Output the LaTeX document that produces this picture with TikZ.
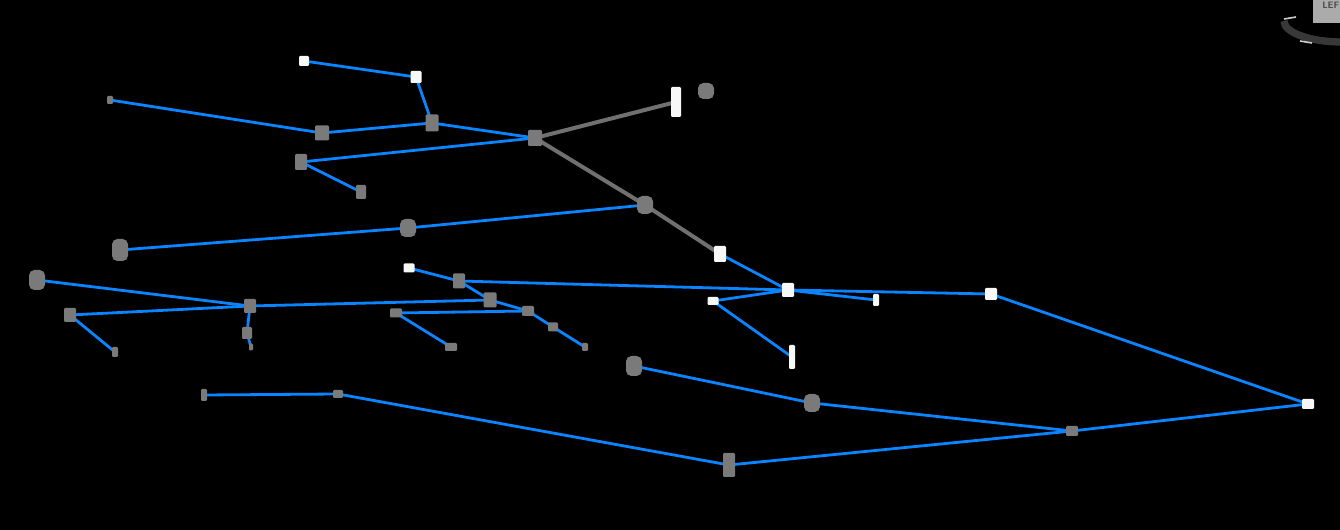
\documentclass[tikz,border=0pt]{standalone}
\usetikzlibrary{backgrounds}
\definecolor{linkblue}{RGB}{10,132,255}
\definecolor{nodegrey}{RGB}{122,122,122}
\definecolor{linkgrey}{RGB}{112,112,112}
\definecolor{nodewhite}{RGB}{248,248,248}
\tikzset{
  box/.style 2 args={rectangle, inner sep=0pt, minimum width=#1*0.75pt, minimum height=#2*0.75pt, rounded corners=0.8pt},
  gn/.style={fill=nodegrey},
  wn/.style={fill=nodewhite},
  arch/.style={rounded corners=4pt},
  bl/.style={draw=linkblue, line width=2.1pt},
  gl/.style={draw=linkgrey, line width=3pt},
}
\begin{document}
\begin{tikzpicture}[x=0.75pt,y=-0.75pt]
\useasboundingbox (0,0) rectangle (1340,530);
% nodes
\node[box={10}{10},wn] (A) at (304,61) {};
\node[box={11}{12},wn] (B) at (416,77) {};
\node[box={6}{8},gn] (C) at (110,100) {};
\node[box={14}{15},gn] (D) at (322,133) {};
\node[box={13}{17},gn] (E) at (432,123) {};
\node[box={14}{16},gn] (F) at (535,138) {};
\node[box={10}{30},wn] (G) at (676,102) {};
\node[box={16}{16},gn,arch] (H) at (706,91) {};
\node[box={12}{16},gn] (I) at (301,162) {};
\node[box={10}{14},gn] (J) at (361,192) {};
\node[box={16}{18},gn,arch] (K) at (645,205) {};
\node[box={16}{18},gn,arch] (L) at (408,228) {};
\node[box={16}{22},gn,arch] (M) at (120,250) {};
\node[box={12}{16},wn] (N) at (720,254) {};
\node[box={12}{14},wn] (O) at (788,290) {};
\node[box={6}{12},wn] (P) at (876,300) {};
\node[box={12}{12},wn] (Q) at (991,294) {};
\node[box={11}{8},wn] (R) at (713,301) {};
\node[box={6}{24},wn] (S) at (792,357) {};
\node[box={12}{10},wn] (T) at (1308,404) {};
\node[box={11}{9},wn] (U) at (409,268) {};
\node[box={12}{15},gn] (V) at (459,281) {};
\node[box={13}{15},gn] (W) at (490,300) {};
\node[box={12}{10},gn] (X) at (528,311) {};
\node[box={10}{9},gn] (Y) at (553,327) {};
\node[box={6}{8},gn] (Z) at (585,347) {};
\node[box={12}{9},gn] (AA) at (396,313) {};
\node[box={12}{8},gn] (AB) at (451,347) {};
\node[box={16}{20},gn,arch] (AC) at (37,280) {};
\node[box={12}{14},gn] (AD) at (250,306) {};
\node[box={10}{12},gn] (AE) at (247,333) {};
\node[box={4}{7},gn] (AF) at (251,347) {};
\node[box={12}{14},gn] (AG) at (70,315) {};
\node[box={6}{10},gn] (AH) at (115,352) {};
\node[box={6}{12},gn] (AI) at (204,395) {};
\node[box={10}{8},gn] (AJ) at (338,394) {};
\node[box={12}{24},gn] (AK) at (729,465) {};
\node[box={16}{20},gn,arch] (AL) at (634,366) {};
\node[box={16}{18},gn,arch] (AM) at (812,403) {};
\node[box={12}{10},gn] (AN) at (1072,431) {};
% navigation widget (top-right)
\node[rectangle, fill=black!33, inner sep=0pt, minimum width=28*0.75pt, minimum height=24*0.75pt, anchor=north west] (nav) at (1313,-1) {};
\node[anchor=north west, inner sep=0pt, font=\fontsize{7}{7}\sffamily\bfseries, text=black!70] (navtext) at (1322,2) {LEF};
\begin{pgfonlayer}{background}
\fill[black] (0,0) rectangle (1340,530);
\draw[black!78, line width=5.5pt] (1342,42) arc[start angle=90, end angle=180, x radius=58, y radius=21];
\draw[black!20, line width=1.2pt] (1284,19) -- (1296,17);
\draw[black!20, line width=1.2pt] (1300,41) -- (1312,43);
\draw[gl] (F.center) -- (G.center);
\draw[gl] (F.center) -- (K.center);
\draw[gl] (K.center) -- (N.center);
\draw[bl] (A) -- (B.center);
\draw[bl] (B.center) -- (E.center);
\draw[bl] (C.center) -- (D.center);
\draw[bl] (D.center) -- (E.center);
\draw[bl] (E.center) -- (F.center);
\draw[bl] (F.center) -- (I.center);
\draw[bl] (I.center) -- (J.center);
\draw[bl] (M.center) -- (L.center);
\draw[bl] (L.center) -- (K.center);
\draw[bl] (N.center) -- (O.center);
\draw[bl] (V.center) -- (O.center);
\draw[bl] (R.center) -- (O.center);
\draw[bl] (R.center) -- (S.center);
\draw[bl] (O.center) -- (P.center);
\draw[bl] (O.center) -- (Q.center);
\draw[bl] (Q.center) -- (T.center);
\draw[bl] (T.center) -- (AN.center);
\draw[bl] (AN.center) -- (AK.center);
\draw[bl] (AN.center) -- (AM.center);
\draw[bl] (AM.center) -- (AL.center);
\draw[bl] (AK.center) -- (AJ.center);
\draw[bl] (AJ.center) -- (AI.center);
\draw[bl] (U.center) -- (V.center);
\draw[bl] (V.center) -- (W.center);
\draw[bl] (W.center) -- (X.center);
\draw[bl] (AD.center) -- (W.center);
\draw[bl] (AA.center) -- (X.center);
\draw[bl] (X.center) -- (Y.center);
\draw[bl] (Y.center) -- (Z.center);
\draw[bl] (AA.center) -- (AB.center);
\draw[bl] (AC.center) -- (AD.center);
\draw[bl] (AG.center) -- (AD.center);
\draw[bl] (AG.center) -- (AH.center);
\draw[bl] (AD.center) -- (AE.center);
\draw[bl] (AE.center) -- (AF.center);
\end{pgfonlayer}
\end{tikzpicture}
\end{document}
